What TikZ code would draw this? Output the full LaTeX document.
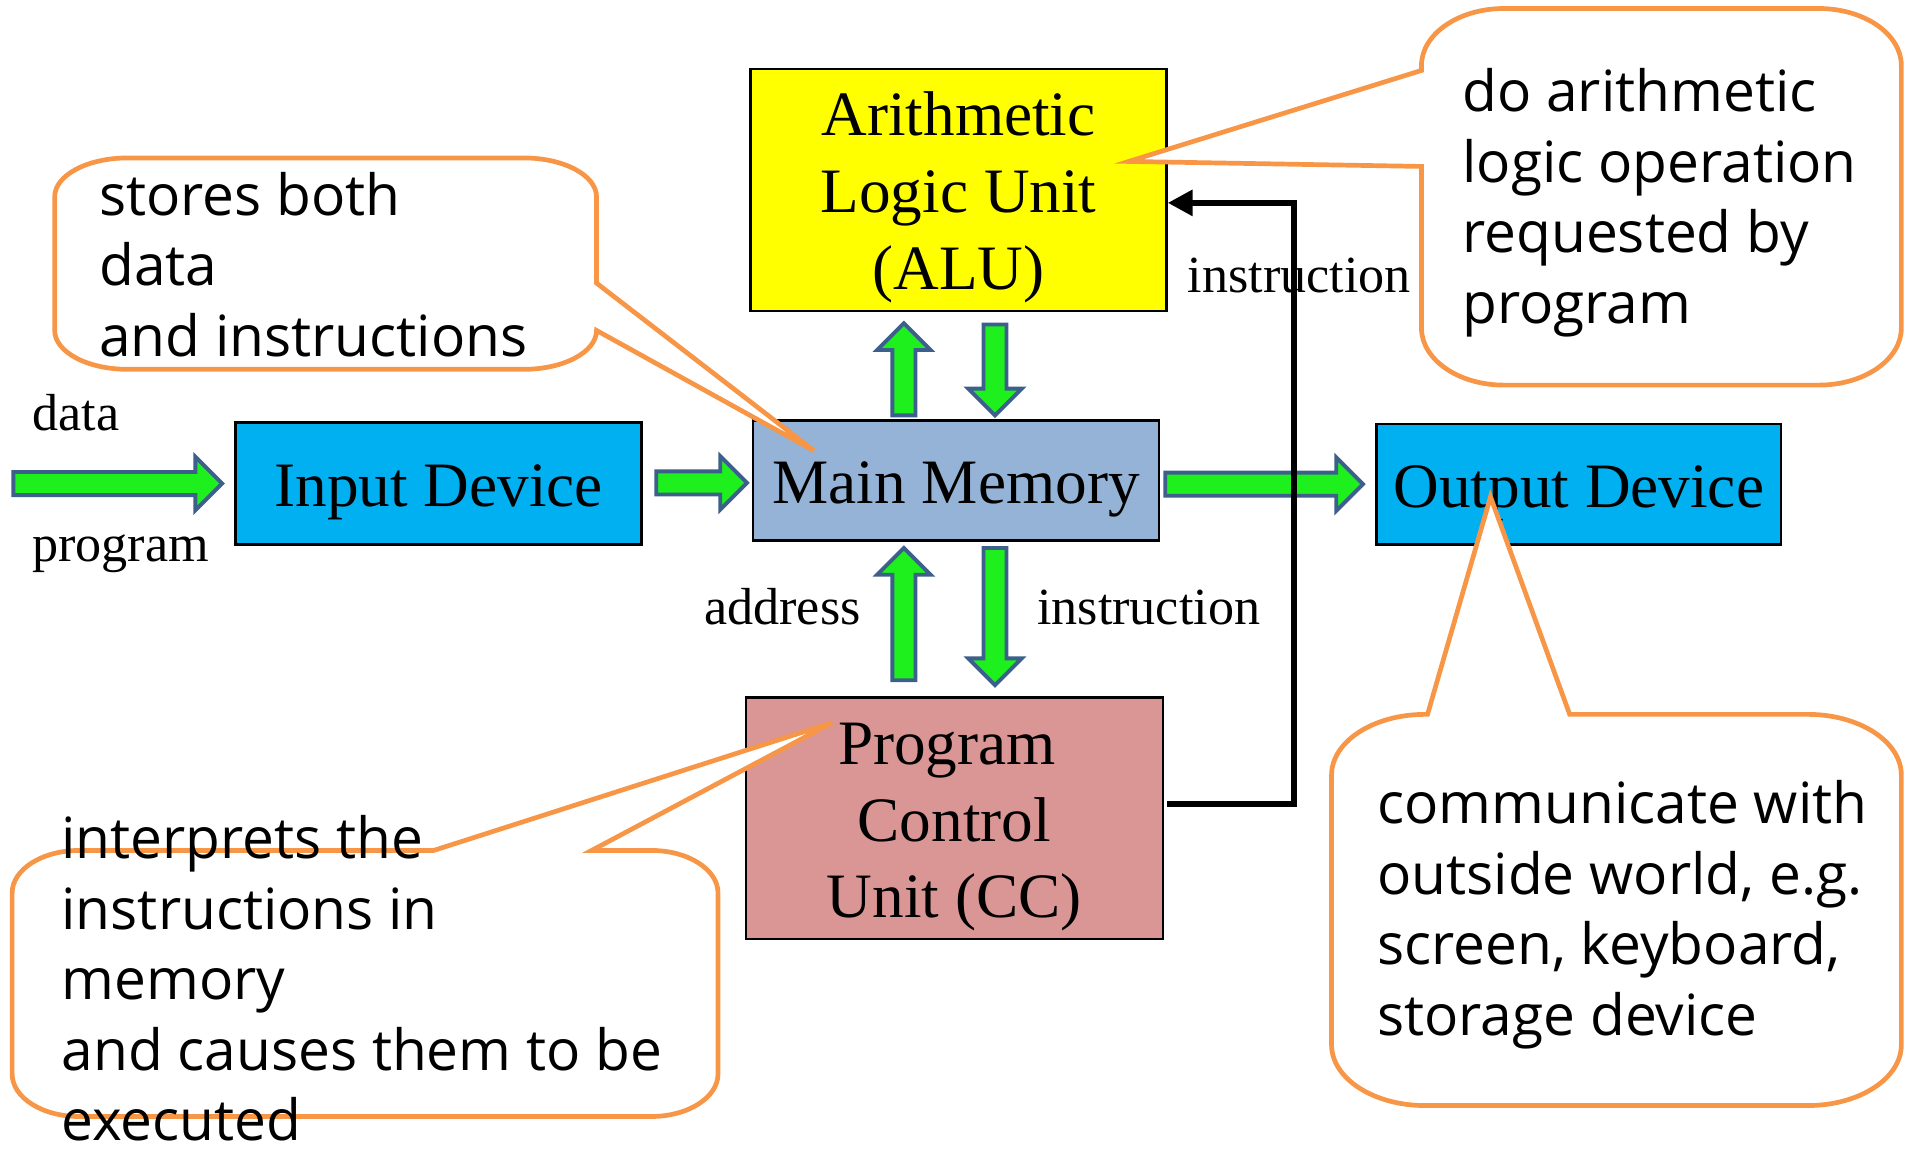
\documentclass[tikz,border=0pt]{standalone}
\usepackage{fontspec}
\setmainfont{Liberation Serif}
\newfontfamily\calloutfont{Open Sans}
\usetikzlibrary{calc,arrows.meta}

\definecolor{aluyellow}{HTML}{FFFF00}
\definecolor{devblue}{HTML}{00B0F0}
\definecolor{memblue}{HTML}{95B3D7}
\definecolor{pcured}{HTML}{D99694}
\definecolor{callorange}{HTML}{F79646}
\definecolor{arrowgreen}{HTML}{1EF01E}
\definecolor{arrowedge}{HTML}{3C5F8C}

\def\ArrSh{0.095cm}
\def\ArrHw{0.22cm}
\def\ArrHl{0.22cm}

% block arrow pointing right: tail, tip
\newcommand\garrowR[2]{%
  \draw[garrow] let \p1=(#1), \p2=(#2) in
    (\x1,\y2+\ArrSh) -- (\x2-\ArrHl,\y2+\ArrSh) -- (\x2-\ArrHl,\y2+\ArrHw) -- (\x2,\y2)
    -- (\x2-\ArrHl,\y2-\ArrHw) -- (\x2-\ArrHl,\y2-\ArrSh) -- (\x1,\y2-\ArrSh) -- cycle;}
% block arrow pointing up: tail, tip
\newcommand\garrowU[2]{%
  \draw[garrow] let \p1=(#1), \p2=(#2) in
    (\x2+\ArrSh,\y1) -- (\x2+\ArrSh,\y2-\ArrHl) -- (\x2+\ArrHw,\y2-\ArrHl) -- (\x2,\y2)
    -- (\x2-\ArrHw,\y2-\ArrHl) -- (\x2-\ArrSh,\y2-\ArrHl) -- (\x2-\ArrSh,\y1) -- cycle;}
% block arrow pointing down: tail, tip
\newcommand\garrowD[2]{%
  \draw[garrow] let \p1=(#1), \p2=(#2) in
    (\x2+\ArrSh,\y1) -- (\x2+\ArrSh,\y2+\ArrHl) -- (\x2+\ArrHw,\y2+\ArrHl) -- (\x2,\y2)
    -- (\x2-\ArrHw,\y2+\ArrHl) -- (\x2-\ArrSh,\y2+\ArrHl) -- (\x2-\ArrSh,\y1) -- cycle;}

\tikzset{
  box/.style={draw=black, line width=0.6pt, inner sep=0pt, text depth=0cm,
    font=\fontsize{14.8}{18}\selectfont},
  oneline/.style={text height=0.38cm},
  threeline/.style={text height=1.64cm},
  lbl/.style={inner sep=0pt, anchor=base west, font=\fontsize{12.2}{14.6}\selectfont},
  callout/.style={draw=callorange, line width=1.1pt, fill=white, line join=miter},
  ctext/.style={inner sep=0pt, anchor=base west, font=\calloutfont\fontsize{13.3}{16.5}\selectfont},
  garrow/.style={draw=arrowedge, fill=arrowgreen, line width=0.9pt, line join=miter},
  ctrl/.style={draw=black, line width=1.5pt, line join=miter,
    -{Triangle[length=5.8pt,width=5.8pt]}},
}

\begin{document}
\begin{tikzpicture}[x=0.01cm, y=0.01cm]
\useasboundingbox (0,0) rectangle (1568,-946);

% boxes
\node[box, oneline, fill=devblue, minimum width=3.34cm, minimum height=1.00cm] (inp) at (361,-398) {Input Device};
\node[box, oneline, fill=memblue, minimum width=3.34cm, minimum height=0.99cm] (mem) at (787,-395.5) {Main Memory};
\node[box, oneline, fill=devblue, minimum width=3.33cm, minimum height=0.99cm] (out) at (1299.5,-398.5) {Output Device};
\node[box, threeline, fill=aluyellow, minimum width=3.42cm, minimum height=1.99cm] (alu) at (789,-156.5)
  {\begin{tabular}[b]{@{}c@{}}Arithmetic\\Logic Unit\\(ALU)\end{tabular}};
\node[box, threeline, fill=pcured, minimum width=3.43cm, minimum height=1.99cm] (pcu) at (785.5,-673.5)
  {\begin{tabular}[b]{@{}c@{}}Program\hspace*{0.12cm}\\Control\\Unit (CC)\end{tabular}};

% labels
\node[lbl] (ldata) at (26,-354) {data};
\node[lbl] (lprog) at (26,-462) {program};
\node[lbl] (laddr) at (579,-514) {address};
\node[lbl] (linstr) at (853,-514) {instruction};
\node[lbl] (linstrtop) at (977,-241) {instruction};

% green block arrows
\coordinate (datatail) at (11,-398);
\garrowR{datatail}{$(inp.west)+(-10,0)$}
\garrowR{$(inp.east)+(11,0)$}{$(mem.west)+(-4,-2)$}
\garrowR{$(mem.east)+(4,0)$}{$(out.west)+(-10,0)$}
\garrowU{$(mem.north)+(-43,3)$}{$(alu.south)+(-45,-9)$}
\garrowD{$(alu.south)+(30,-10)$}{$(mem.north)+(32,3)$}
\garrowU{$(pcu.north)+(-41.5,13)$}{$(mem.south)+(-43,-5)$}
\garrowD{$(mem.south)+(32,-5)$}{$(pcu.north)+(33.5,9)$}

% control line PCU -> ALU
\draw[ctrl] ($(pcu.east)+(2,11.5)$) -- ++(105,0) |- ($(alu.east)+(0,-10.5)$);

% callout tips
\coordinate (tipA) at ($(mem.north west)+(51,-26)$);
\coordinate (tipB) at ($(alu.north east)+(-32,-77)$);
\coordinate (tipC) at ($(pcu.north west)+(72,-22)$);
\coordinate (tipD) at ($(out.north west)+(95,-61)$);

% callout A: stores both ...
\draw[callout] (105,-130) -- (431,-130) arc[start angle=90,end angle=0,x radius=60,y radius=32]
  -- (491,-233) -- (tipA) -- (491,-272) arc[start angle=0,end angle=-90,x radius=60,y radius=32]
  -- (105,-304) arc[start angle=270,end angle=180,x radius=60,y radius=32]
  -- (45,-162) arc[start angle=180,end angle=90,x radius=60,y radius=32] -- cycle;
% callout B: do arithmetic ...
\draw[callout] (1238,-7) -- (1497,-7) arc[start angle=90,end angle=0,x radius=68,y radius=47]
  -- (1565,-270) arc[start angle=0,end angle=-90,x radius=68,y radius=47]
  -- (1238,-317) arc[start angle=270,end angle=180,x radius=68,y radius=47]
  -- (1170,-137) -- (tipB) -- (1170,-58)
  -- (1170,-54) arc[start angle=180,end angle=90,x radius=68,y radius=47] -- cycle;
% callout C: interprets ...
\draw[callout] (65,-700) -- (357,-700) -- (tipC) -- (487,-700)
  -- (536,-700) arc[start angle=90,end angle=0,x radius=55,y radius=35]
  -- (591,-884) arc[start angle=0,end angle=-90,x radius=55,y radius=35]
  -- (65,-919) arc[start angle=270,end angle=180,x radius=55,y radius=35]
  -- (10,-735) arc[start angle=180,end angle=90,x radius=55,y radius=35] -- cycle;
% callout D: communicate ...
\draw[callout] (1173,-588) -- (1175,-588) -- (tipD) -- (1292,-588)
  -- (1488,-588) arc[start angle=90,end angle=0,x radius=77,y radius=50]
  -- (1565,-860) arc[start angle=0,end angle=-90,x radius=77,y radius=50]
  -- (1173,-910) arc[start angle=270,end angle=180,x radius=77,y radius=50]
  -- (1096,-638) arc[start angle=180,end angle=90,x radius=77,y radius=50] -- cycle;

% callout texts
\node[ctext] (ta) at (81,-177) {\begin{tabular}[t]{@{}l@{}}stores both\\data\\and instructions\end{tabular}};
\node[ctext] (tb) at (1203,-92) {\begin{tabular}[t]{@{}l@{}}do arithmetic\\logic operation\\requested by\\program\end{tabular}};
\node[ctext] (tc) at (50,-707) {\begin{tabular}[t]{@{}l@{}}interprets the\\instructions in\\memory\\and causes them to be\\executed\end{tabular}};
\node[ctext] (td) at (1133,-678) {\begin{tabular}[t]{@{}l@{}}communicate with\\outside world, e.g.\\screen, keyboard,\\storage device\end{tabular}};
\end{tikzpicture}
\end{document}
